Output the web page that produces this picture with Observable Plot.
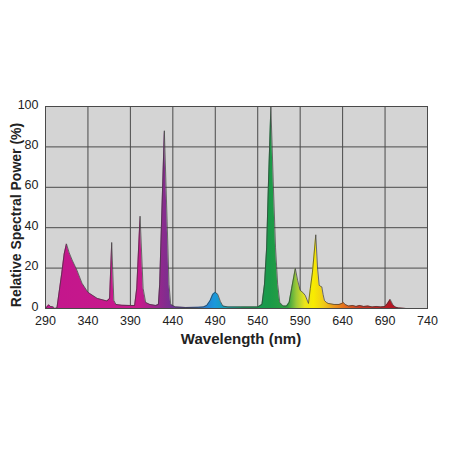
<!DOCTYPE html>
<html>
<head>
<meta charset="utf-8">
<script src="https://cdn.jsdelivr.net/npm/d3@7"></script>
<script src="https://cdn.jsdelivr.net/npm/@observablehq/plot@0.6"></script>
<style>
  html, body { margin: 0; padding: 0; background: #fff; }
  #chart { width: 452px; height: 452px; }
</style>
</head>
<body>
<div id="chart"></div>
<script>
// Wavelength (nm) and relative spectral power (%)
const wavelength = [
  290, 292, 294, 296, 299, 301, 303.5, 309, 312, 314.7, 318, 321.4, 327, 333, 340, 351, 362.5,
  365.5, 368, 370.5, 373, 380, 390, 395, 397.5, 401.4, 405, 408, 413, 420, 423, 424.5, 426.5, 430,
  433.5, 435.5, 437.5, 443, 455, 470, 476, 480, 484, 487, 490, 493, 496, 499, 505, 520, 540, 545,
  548, 550.5, 552.5, 555.5, 558.5, 561, 563.5, 566, 570, 574, 577, 580, 584.3, 587, 590, 593, 596,
  599.8, 602, 604.5, 608.4, 610.5, 612.4, 614, 615.5, 617, 618.6, 621, 623, 630, 636, 639, 641, 643,
  647, 652, 656, 660, 665, 670, 675, 680, 685, 690, 693, 696, 699, 702, 706, 715, 740
];
const power = [
  0, 1, 1.8, 1, 0.8, 0, 0.3, 17, 27, 32, 27.5, 24, 19, 12.5, 8, 5, 3.7,
  5, 32.7, 4, 2, 1.6, 1.5, 1.5, 10, 45.7, 10, 3, 2, 1.5, 2, 12, 40, 88,
  40, 12, 2, 0.8, 0.5, 0.6, 0.8, 1.5, 4, 7, 8, 7, 3.5, 1.2, 0.8, 0.8, 0.8, 2,
  12, 30, 60, 100, 60, 30, 12, 3, 1.2, 1.2, 3, 10, 19.8, 14, 9, 8, 6.5,
  2.5, 10, 18, 36.5, 20, 11.5, 11, 10.7, 7, 4, 3, 2.5, 2, 2, 2.5, 3, 2,
  1.2, 1.5, 1, 1.5, 1, 1.2, 0.8, 1, 0.8, 1, 2.5, 4.5, 2, 0.7, 0.3, 0, 0
];
const xTicks = [290, 340, 390, 440, 490, 540, 590, 640, 690, 740];
const yTicks = [0, 20, 40, 60, 80, 100];

// gradient colour stops along the spectrum (wavelength -> colour)
const stopWavelengths = [290, 400, 415, 432, 450, 470, 490, 505, 525, 555, 576, 586, 596, 606, 618, 630, 642, 660, 700, 740];
const stopColors = ["#c3168c", "#c8198c", "#a8228c", "#842c8e", "#5a3a9c", "#2e6cc8", "#1a98dc", "#16a0a8", "#169a5a", "#1a9a48", "#2ea040", "#9cc838", "#eae41c", "#f8ec00", "#f0cc18", "#ec9a1c", "#e4701c", "#cc3822", "#b41424", "#a01020"];

const data = wavelength.map((w, i) => ({ w, p: power[i] }));

const chart = Plot.plot({
  width: 452,
  height: 452,
  marginTop: 106,
  marginBottom: 144,
  marginLeft: 45,
  marginRight: 25,
  style: { fontFamily: "'Liberation Sans', Arial, sans-serif", background: "#fff" },
  x: { domain: [290, 740], label: null },
  y: { domain: [0, 100], label: null },
  marks: [
    Plot.frame({ fill: "#d4d4d4", stroke: null }),
    Plot.gridX(xTicks, { stroke: "#4a4a4a", strokeOpacity: 1, strokeWidth: 1 }),
    Plot.gridY(yTicks, { stroke: "#4a4a4a", strokeOpacity: 1, strokeWidth: 1 }),
    Plot.areaY(data, { x: "w", y: "p", fill: "url(#specGrad)", curve: "linear" }),
    Plot.lineY(data, { x: "w", y: "p", stroke: "#3a3a3a", strokeWidth: 0.7, curve: "linear" }),
    Plot.frame({ stroke: "#4a4a4a", strokeWidth: 1 }),
    Plot.axisX(xTicks, { tickSize: 0, tickPadding: 8, fontSize: 12.5, fill: "#222", label: null }),
    Plot.axisY(yTicks, { tickSize: 0, tickPadding: 7, fontSize: 12.5, fill: "#222", label: null, dy: -2 })
  ]
});

// spectrum gradient in plot coordinates
const xs = chart.scale("x");
const ns = "http://www.w3.org/2000/svg";
const defs = document.createElementNS(ns, "defs");
const grad = document.createElementNS(ns, "linearGradient");
grad.setAttribute("id", "specGrad");
grad.setAttribute("gradientUnits", "userSpaceOnUse");
grad.setAttribute("x1", xs.apply(290));
grad.setAttribute("x2", xs.apply(740));
grad.setAttribute("y1", 0);
grad.setAttribute("y2", 0);
stopWavelengths.forEach((w, i) => {
  const s = document.createElementNS(ns, "stop");
  s.setAttribute("offset", (w - 290) / (740 - 290));
  s.setAttribute("stop-color", stopColors[i]);
  grad.appendChild(s);
});
defs.appendChild(grad);
chart.insertBefore(defs, chart.firstChild);

// axis titles
const xt = document.createElementNS(ns, "text");
xt.setAttribute("x", 241);
xt.setAttribute("y", 344);
xt.setAttribute("text-anchor", "middle");
xt.setAttribute("font-size", 15);
xt.setAttribute("font-weight", "bold");
xt.setAttribute("fill", "#222");
xt.textContent = "Wavelength (nm)";
chart.appendChild(xt);

const yt = document.createElementNS(ns, "text");
yt.setAttribute("transform", "translate(21,215) rotate(-90)");
yt.setAttribute("text-anchor", "middle");
yt.setAttribute("font-size", 14);
yt.setAttribute("font-weight", "bold");
yt.setAttribute("fill", "#222");
yt.textContent = "Relative Spectral Power (%)";
chart.appendChild(yt);

document.getElementById("chart").appendChild(chart);
</script>
</body>
</html>
